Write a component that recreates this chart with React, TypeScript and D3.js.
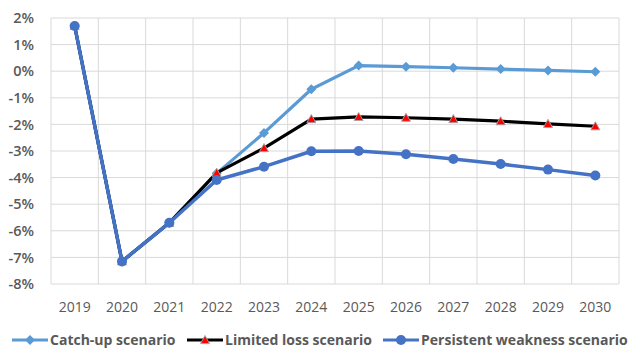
import React from "react";
import * as d3 from "d3";

const years = ["2019", "2020", "2021", "2022", "2023", "2024", "2025", "2026", "2027", "2028", "2029", "2030"];
const catchUp = [1.7, -7.15, -5.7, -3.84, -2.32, -0.68, 0.21, 0.17, 0.13, 0.08, 0.03, -0.02];
const limitedLoss = [1.7, -7.15, -5.7, -3.82, -2.89, -1.8, -1.72, -1.75, -1.8, -1.88, -1.98, -2.07];
const persistent = [1.7, -7.15, -5.7, -4.09, -3.59, -3.01, -3.0, -3.12, -3.3, -3.49, -3.7, -3.92];
const yTicks = [2, 1, 0, -1, -2, -3, -4, -5, -6, -7, -8];
const seriesNames = ["Catch-up scenario", "Limited loss scenario", "Persistent weakness scenario"];

const W = 628;
const H = 351;
const left = 51;
const right = 619;
const top = 18;
const bottom = 284;

export default function App() {
  const x = d3.scaleBand<string>().domain(years).range([left, right]);
  const y = d3.scaleLinear().domain([-8, 2]).range([bottom, top]);
  const cx = (yr: string) => (x(yr) ?? 0) + x.bandwidth() / 2;
  const line = (vals: number[]) =>
    d3.line<number>().x((_, i) => cx(years[i])).y((v) => y(v))(vals) ?? "";

  const font = "'Open Sans', 'Liberation Sans', sans-serif";
  const textColor = "#595959";
  const lightBlue = "#5B9BD5";
  const darkBlue = "#4472C4";

  const diamond = (px: number, py: number, r: number) =>
    `M${px},${py - r}L${px + r},${py}L${px},${py + r}L${px - r},${py}Z`;
  const triangle = (px: number, py: number, r: number) =>
    `M${px},${py - r}L${px + r},${py + r * 0.8}L${px - r},${py + r * 0.8}Z`;

  const legendItems = [
    { name: seriesNames[0], x0: 12, kind: "diamond" },
    { name: seriesNames[1], x0: 187, kind: "triangle" },
    { name: seriesNames[2], x0: 383, kind: "circle" },
  ];

  return (
    <svg
      width={W}
      height={H}
      style={{ position: "absolute", left: 0, top: 0, background: "#fff" }}
      fontFamily={font}
    >
      {/* horizontal gridlines */}
      {yTicks.map((t) => (
        <line key={"h" + t} x1={left} x2={right} y1={y(t)} y2={y(t)} stroke="#d9d9d9" strokeWidth={1} />
      ))}
      {/* vertical gridlines at category boundaries */}
      {years.concat(["end"]).map((yr, i) => {
        const xx = left + i * x.bandwidth();
        return <line key={"v" + i} x1={xx} x2={xx} y1={top} y2={bottom} stroke="#d9d9d9" strokeWidth={1} />;
      })}

      {/* y tick labels */}
      {yTicks.map((t) => (
        <text
          key={"yt" + t}
          x={34}
          y={y(t)}
          dy="0.36em"
          textAnchor="end"
          fontSize={14.5}
          fontWeight={600}
          fill={textColor}
        >
          {t}%
        </text>
      ))}
      {/* x tick labels */}
      {years.map((yr) => (
        <text key={"xt" + yr} x={cx(yr)} y={307} dy="0.35em" textAnchor="middle" fontSize={14} fill={textColor}>
          {yr}
        </text>
      ))}

      {/* catch-up */}
      <path d={line(catchUp)} fill="none" stroke={lightBlue} strokeWidth={3.2} strokeLinejoin="round" />
      {catchUp.map((v, i) => (
        <path key={"cu" + i} d={diamond(cx(years[i]), y(v), 5)} fill={lightBlue} />
      ))}

      {/* limited loss */}
      <path d={line(limitedLoss)} fill="none" stroke="#000" strokeWidth={3.2} strokeLinejoin="round" />
      {limitedLoss.map((v, i) => (
        <path key={"ll" + i} d={triangle(cx(years[i]), y(v), 4.5)} fill="#ff0000" stroke="#a6a6a6" strokeWidth={0.9} />
      ))}

      {/* persistent weakness */}
      <path d={line(persistent)} fill="none" stroke={darkBlue} strokeWidth={3.5} strokeLinejoin="round" />
      {persistent.map((v, i) => (
        <circle key={"pw" + i} cx={cx(years[i])} cy={y(v)} r={5} fill={darkBlue} />
      ))}

      {/* legend */}
      {legendItems.map((it) => {
        const ly = 340;
        const mx = it.x0 + 18;
        return (
          <g key={it.name}>
            <line
              x1={it.x0}
              x2={it.x0 + 36}
              y1={ly}
              y2={ly}
              stroke={it.kind === "diamond" ? lightBlue : it.kind === "triangle" ? "#000" : darkBlue}
              strokeWidth={3.2}
            />
            {it.kind === "diamond" && <path d={diamond(mx, ly, 5)} fill={lightBlue} />}
            {it.kind === "triangle" && (
              <path d={triangle(mx, ly, 4.5)} fill="#ff0000" stroke="#a6a6a6" strokeWidth={0.9} />
            )}
            {it.kind === "circle" && <circle cx={mx} cy={ly} r={5} fill={darkBlue} />}
            <text x={it.x0 + 38} y={ly} dy="0.36em" fontSize={14} fontWeight="bold" fill={textColor}>
              {it.name}
            </text>
          </g>
        );
      })}
    </svg>
  );
}
